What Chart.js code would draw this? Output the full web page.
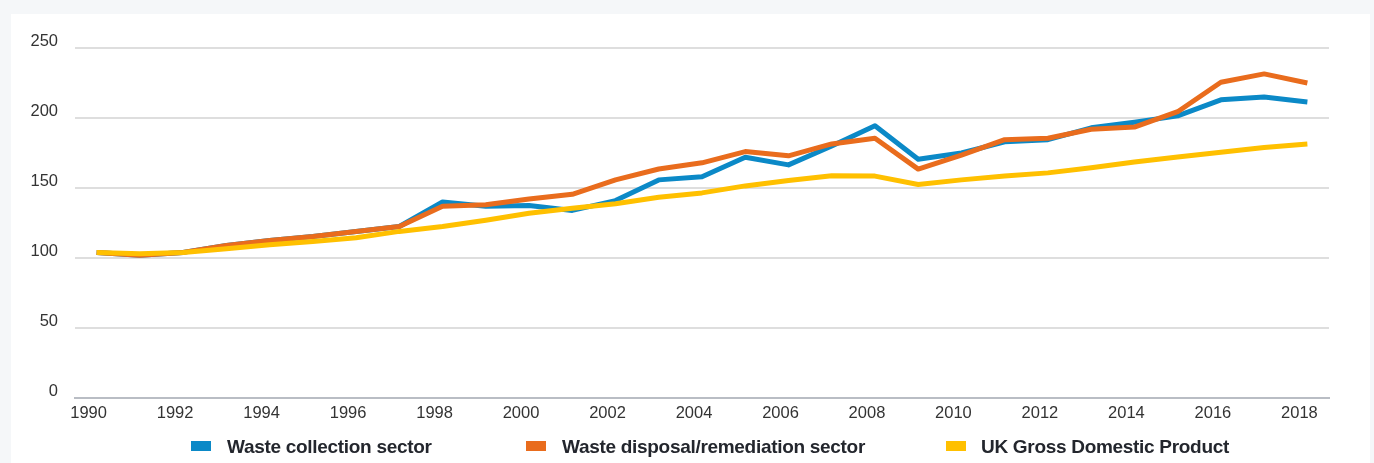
<!DOCTYPE html>
<html>
<head>
<meta charset="utf-8">
<script src="https://cdn.jsdelivr.net/npm/chart.js@4.4.1/dist/chart.umd.min.js"></script>
<style>
  html, body { margin: 0; padding: 0; background: #f5f7f9; overflow: hidden; }
  #panel { position: absolute; left: 11px; top: 14px; width: 1359px; height: 449px; background: #fff; }
  #chart { position: absolute; left: 0; top: 0; }
  .leg-box { position: absolute; top: 441px; width: 20px; height: 10px; }
  .leg-text { position: absolute; top: 436px; line-height: 19px; white-space: nowrap;
    font: bold 19px 'Liberation Sans', Arial, sans-serif; letter-spacing: -0.3px; color: #23262d; }
</style>
</head>
<body>
<div id="panel"></div>
<canvas id="chart" width="1374" height="463"></canvas>
<div id="legend"></div>
<script>
const years = ['1990','1991','1992','1993','1994','1995','1996','1997','1998','1999',
  '2000','2001','2002','2003','2004','2005','2006','2007','2008','2009',
  '2010','2011','2012','2013','2014','2015','2016','2017','2018'];

const collection = [104, 102, 104, 109, 112.5, 115.4, 119, 122.5, 140, 137,
  137.5, 134, 141, 155.8, 158, 172, 166.5, 180, 194.5, 170.5,
  175, 183, 184.5, 193, 197, 201.5, 213, 215, 211.5];

const disposal = [104, 102, 104, 109, 112.5, 115.4, 119, 122.5, 137, 138,
  142.2, 145.5, 155.8, 163.6, 168, 176, 173, 181.5, 185.5, 163.5,
  173.5, 184.5, 185.5, 192, 193.5, 204.5, 225.5, 231.5, 225];

const gdp = [104, 103, 104, 106.6, 109.5, 111.8, 114.4, 119, 122.5, 127,
  132, 135.5, 138.7, 143.4, 146.5, 151.5, 155.3, 158.8, 158.5, 152.5,
  155.8, 158.5, 160.8, 164.5, 168.5, 172.2, 175.6, 179, 181.4];

const yTicks = [0, 50, 100, 150, 200, 250];

function serie(label, data, color, order) {
    return {
        label: label,
        data: data,
        borderColor: color,
        backgroundColor: color,
        borderWidth: 5,
        borderJoinStyle: 'round',
        pointRadius: 0,
        tension: 0,
        fill: false,
        order: order
    };
}

const ctx = document.getElementById('chart').getContext('2d');
const chart = new Chart(ctx, {
    type: 'line',
    data: {
        labels: years,
        datasets: [
            serie('Waste collection sector', collection, '#0b89c7', 3),
            serie('Waste disposal/remediation sector', disposal, '#e96c1d', 2),
            serie('UK Gross Domestic Product', gdp, '#ffc000', 1)
        ]
    },
    options: {
        responsive: false,
        animation: false,
        layout: { padding: { top: 48, left: 0, right: 45, bottom: 35 } },
        scales: {
            x: {
                offset: true,
                grid: { display: false, drawTicks: false },
                border: { display: true, color: '#b9bdc4', width: 2 },
                ticks: {
                    autoSkip: false,
                    maxRotation: 0,
                    padding: 6,
                    labelOffset: -8,
                    color: '#333',
                    font: { family: 'Liberation Sans', size: 16.5 },
                    callback: function (v, i) { return i % 2 === 0 ? years[i] : null; }
                },
                afterFit: s => { s.height = 30; }
            },
            y: {
                min: 0,
                max: 250,
                afterBuildTicks: s => { s.ticks = yTicks.map(v => ({ value: v })); },
                grid: { color: '#dedede', lineWidth: 2, drawTicks: false },
                border: { display: false },
                ticks: {
                    padding: 17,
                    labelOffset: -7,
                    color: '#333',
                    font: { family: 'Liberation Sans', size: 16.5 }
                },
                afterFit: s => { s.width = 75; }
            }
        },
        plugins: {
            tooltip: { enabled: false },
            legend: { display: false }
        }
    }
});

// leyenda en HTML, debajo del eje
const legend = document.getElementById('legend');
const boxLeft = [191, 526, 946];
const textLeft = [227, 562, 981];
chart.data.datasets.forEach((ds, i) => {
    const box = document.createElement('div');
    box.className = 'leg-box';
    box.style.left = boxLeft[i] + 'px';
    box.style.background = ds.borderColor;
    const txt = document.createElement('div');
    txt.className = 'leg-text';
    txt.style.left = textLeft[i] + 'px';
    txt.textContent = ds.label;
    legend.appendChild(box);
    legend.appendChild(txt);
});
</script>
</body>
</html>
